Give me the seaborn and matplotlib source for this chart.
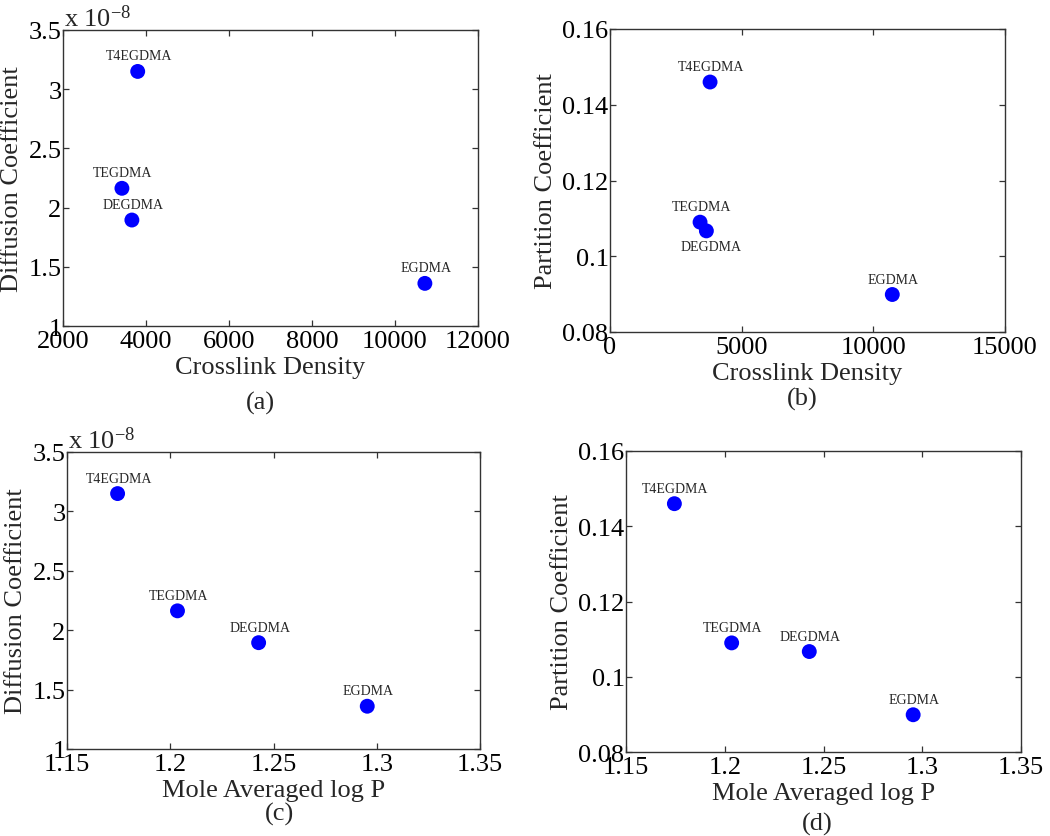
import matplotlib
matplotlib.use("Agg")
import matplotlib.pyplot as plt
import seaborn as sns
import pandas as pd
from matplotlib.ticker import FuncFormatter, MultipleLocator

# ---- data ----
monomers = ["T4EGDMA", "TEGDMA", "DEGDMA", "EGDMA"]
crosslink_density = [3800, 3420, 3660, 10720]
mole_avg_logp = [1.1745, 1.2035, 1.2428, 1.2954]
diffusion_coeff = [3.15e-8, 2.163e-8, 1.895e-8, 1.36e-8]
partition_coeff = [0.146, 0.109, 0.1067, 0.0899]

df = pd.DataFrame({
    "monomer": monomers,
    "crosslink": crosslink_density,
    "logp": mole_avg_logp,
    "diff": diffusion_coeff,
    "part": partition_coeff,
})

sns.set_style("ticks")
plt.rcParams["font.family"] = ["Liberation Serif", "DejaVu Serif"]
plt.rcParams["mathtext.fontset"] = "custom"
plt.rcParams["mathtext.rm"] = "Liberation Serif"
plt.rcParams["mathtext.it"] = "Liberation Serif:italic"

W, H = 1050, 837
fig = plt.figure(figsize=(W / 100, H / 100), dpi=100)


def px_axes(l, t, r, b):
    return fig.add_axes([l / W, 1 - b / H, (r - l) / W, (b - t) / H])


panels = [
    ((63, 31, 478, 327), "crosslink", "diff", (2000, 12000), 2000, (1e-8, 3.5e-8), 0.5e-8,
     "Crosslink Density", "Diffusion Coefficient", "(a)", (260, 403), True, []),
    ((610, 30, 1005, 333), "crosslink", "part", (0, 15000), 5000, (0.08, 0.16), 0.02,
     "Crosslink Density", "Partition Coefficient", "(b)", (802, 399), False, ["DEGDMA"]),
    ((67, 453, 480, 750), "logp", "diff", (1.15, 1.35), 0.05, (1e-8, 3.5e-8), 0.5e-8,
     "Mole Averaged log P", "Diffusion Coefficient", "(c)", (279, 814), True, []),
    ((626, 452, 1021, 753), "logp", "part", (1.15, 1.35), 0.05, (0.08, 0.16), 0.02,
     "Mole Averaged log P", "Partition Coefficient", "(d)", (817, 824), False, []),
]

spine_col = "#333333"
for (box, xc, yc, xlim, xstep, ylim, ystep, xlabel, ylabel, cap, cpos, sci, below) in panels:
    ax = px_axes(*box)
    sns.scatterplot(data=df, x=xc, y=yc, ax=ax, color=(0, 0, 1), s=115,
                    edgecolor="none", linewidth=0, legend=False, zorder=3)
    ax.set_xlim(*xlim)
    ax.set_ylim(*ylim)
    ax.xaxis.set_major_locator(MultipleLocator(xstep))
    ax.yaxis.set_major_locator(MultipleLocator(ystep))
    ax.xaxis.set_major_formatter(FuncFormatter(lambda v, p: f"{round(v, 6):g}"))
    if sci:
        ax.yaxis.set_major_formatter(FuncFormatter(lambda v, p: f"{round(v / 1e-8, 6):g}"))
        ax.annotate(r"x 10$^{\mathrm{-8}}$", (0, 1), xycoords="axes fraction",
                    xytext=(1, 4), textcoords="offset pixels",
                    ha="left", va="baseline", fontsize=19)
    else:
        ax.yaxis.set_major_formatter(FuncFormatter(lambda v, p: f"{round(v, 6):g}"))
    ax.tick_params(direction="in", top=True, right=True, length=4, width=0.9,
                   labelsize=19, color=spine_col, labelcolor="black")
    ax.tick_params(axis="x", pad=3)
    ax.tick_params(axis="y", pad=1)
    for s in ax.spines.values():
        s.set_color(spine_col)
        s.set_linewidth(1.0)
        s.set_visible(True)
    ax.set_xlabel(xlabel, fontsize=19, labelpad=3)
    ax.set_ylabel(ylabel, fontsize=19, labelpad=4)
    for _, row in df.iterrows():
        if row["monomer"] in below:
            ax.annotate(row["monomer"], (row[xc], row[yc]), xytext=(5, -9),
                        textcoords="offset pixels", ha="center", va="top", fontsize=10)
        else:
            ax.annotate(row["monomer"], (row[xc], row[yc]), xytext=(1, 9),
                        textcoords="offset pixels", ha="center", va="bottom", fontsize=10)
    fig.text(cpos[0] / W, 1 - cpos[1] / H, cap, ha="center", va="center", fontsize=19)

fig.savefig("out.png", dpi=100, facecolor="white")
